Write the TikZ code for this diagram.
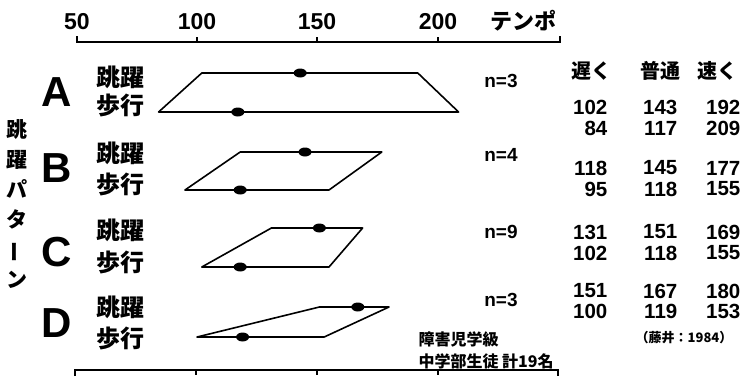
\documentclass[tikz,border=0pt]{standalone}
\usepackage{fontspec}
\setmainfont{Liberation Sans}
\newfontfamily\jpfont{Noto Sans CJK JP}

\tikzset{
  axisline/.style={line width=1.8pt},
  quad/.style={line width=1.6pt, line join=round},
  ticklab/.style={font=\fontsize{23}{23}\selectfont\bfseries},
  rowlab/.style={font=\fontsize{42}{42}\selectfont\bfseries},
  jptext/.style={font=\fontsize{24}{24}\selectfont\jpfont\bfseries},
  headtext/.style={font=\fontsize{20}{20}\selectfont\jpfont\bfseries},
  nlab/.style={font=\fontsize{19}{19}\selectfont\bfseries},
  num/.style={font=\fontsize{20.5}{20.5}\selectfont\bfseries, anchor=east, inner sep=0.5pt},
  note/.style={font=\fontsize{16}{22}\selectfont\jpfont\bfseries, align=left, anchor=west}
}

\begin{document}
\begin{tikzpicture}[x=1pt,y=-1pt]
    \useasboundingbox (0,0) rectangle (742,389);

    % tempo axis, top
    \draw[axisline] (77,36) -- (77,42) -- (560,42) -- (560,36);
    \draw[axisline] (197,42) -- (197,37);
    \draw[axisline] (317,42) -- (317,37);
    \draw[axisline] (438,42) -- (438,37);
    \node[ticklab] (t50) at (77,22) {50};
    \node[ticklab] (t100) at (197,22) {100};
    \node[ticklab] (t150) at (317,22) {150};
    \node[ticklab] (t200) at (438,22) {200};
    \node[jptext, font=\fontsize{22}{22}\selectfont\jpfont\bfseries] (tempo) at (523,21) {テンポ};

    % tempo axis, bottom
    \draw[axisline] (75,376) -- (75,370) -- (558,370) -- (558,376);
    \draw[axisline] (196,370) -- (196,375);
    \draw[axisline] (317,370) -- (317,375);
    \draw[axisline] (438,370) -- (438,375);

    % left labels
    \node[font=\fontsize{21}{30}\selectfont\jpfont\bfseries, align=center] (pattern) at (17,204) {跳\\躍\\パ\\タ\\\rotatebox[origin=c]{90}{ー}\\ン};
    \node[rowlab] (rA) at (57,92) {A};
    \node[rowlab] (rB) at (57,168) {B};
    \node[rowlab] (rC) at (57,252) {C};
    \node[rowlab] (rD) at (57,323) {D};
    \node[jptext] (jA) at (120,77) {跳躍};
    \node[jptext] (wA) at (120,105) {歩行};
    \node[jptext] (jB) at (120,153) {跳躍};
    \node[jptext] (wB) at (120,184) {歩行};
    \node[jptext] (jC) at (120,230) {跳躍};
    \node[jptext] (wC) at (120,262) {歩行};
    \node[jptext] (jD) at (120,307) {跳躍};
    \node[jptext] (wD) at (120,338) {歩行};

    % tempo ranges, in tempo units
    \begin{scope}[xshift=-43pt, x=2.4pt]
        \draw[quad] (102,73) -- (192,73) -- (209,112) -- (84,112) -- cycle;
        \fill (143,73) ellipse (6.5pt and 4.5pt);
        \fill (117,112) ellipse (6.5pt and 4.5pt);

        \draw[quad] (118,152) -- (177,152) -- (155,190) -- (95,190) -- cycle;
        \fill (145,152) ellipse (6.5pt and 4.5pt);
        \fill (118,190) ellipse (6.5pt and 4.5pt);

        \draw[quad] (131,228) -- (169,228) -- (155,267) -- (102,267) -- cycle;
        \fill (151,228) ellipse (6.5pt and 4.5pt);
        \fill (118,267) ellipse (6.5pt and 4.5pt);

        \draw[quad] (151,307) -- (180,307) -- (153,337) -- (100,337) -- cycle;
        \fill (167,307) ellipse (6.5pt and 4.5pt);
        \fill (119,337) ellipse (6.5pt and 4.5pt);
    \end{scope}

    \node[nlab] (nA) at (501,81) {n=3};
    \node[nlab] (nB) at (501,155) {n=4};
    \node[nlab] (nC) at (501,232) {n=9};
    \node[nlab] (nD) at (501,300) {n=3};

    % table
    \node[headtext] (slow) at (591,71) {遅く};
    \node[headtext] (normal) at (660,71) {普通};
    \node[headtext, anchor=east] (fast) at (741,71) {速く};

    \node[num] (a1) at (608,107) {102};
    \node[num] (a2) at (678,107) {143};
    \node[num] (a3) at (741,107) {192};
    \node[num] (a4) at (608,128) {84};
    \node[num] (a5) at (678,128) {117};
    \node[num] (a6) at (741,128) {209};

    \node[num] (b1) at (608,168) {118};
    \node[num] (b2) at (678,168) {145};
    \node[num] (b3) at (741,168) {177};
    \node[num] (b4) at (608,189) {95};
    \node[num] (b5) at (678,189) {118};
    \node[num] (b6) at (741,189) {155};

    \node[num] (c1) at (608,232) {131};
    \node[num] (c2) at (678,232) {151};
    \node[num] (c3) at (741,232) {169};
    \node[num] (c4) at (608,253) {102};
    \node[num] (c5) at (678,253) {118};
    \node[num] (c6) at (741,253) {155};

    \node[num] (d1) at (608,291) {151};
    \node[num] (d2) at (678,291) {167};
    \node[num] (d3) at (741,291) {180};
    \node[num] (d4) at (608,311) {100};
    \node[num] (d5) at (678,311) {119};
    \node[num] (d6) at (741,311) {153};

    \node[note] (group) at (415,350) {障害児学級\\中学部生徒\ 計19名};
    \node[font=\fontsize{13}{13}\selectfont\jpfont\bfseries] (src) at (684,338) {（藤井：1984）};
\end{tikzpicture}
\end{document}
